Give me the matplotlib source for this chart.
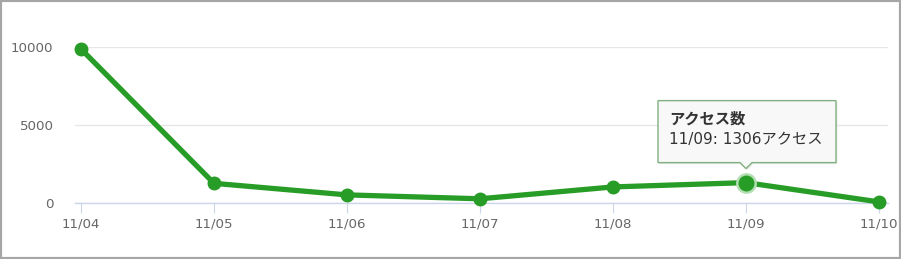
import matplotlib
matplotlib.use("Agg")
import matplotlib.pyplot as plt
import matplotlib.transforms as mtransforms
from matplotlib.patches import Polygon, Rectangle

plt.rcParams['font.family'] = ['DejaVu Sans', 'Noto Sans CJK JP']

# data
dates = ["11/04", "11/05", "11/06", "11/07", "11/08", "11/09", "11/10"]
access = [9870, 1260, 520, 270, 1030, 1306, 70]
yticks = [0, 5000, 10000]
hl = 5  # highlighted point (tooltip)
series_name = "アクセス数"
unit = "アクセス"

green = "#279c26"
W, H = 901, 259

fig = plt.figure(figsize=(W / 100, H / 100), dpi=100)
# plot area in pixels: x 75..888, y 47..203 (0..10000)
ax = fig.add_axes([75 / W, 1 - 203 / H, (888 - 75) / W, (203 - 47) / H])

x = list(range(len(dates)))
ax.set_xlim(-6 / 133, 6 + 9 / 133)
ax.set_ylim(0, 10000)

for s in ["top", "right", "left"]:
    ax.spines[s].set_visible(False)
ax.spines["bottom"].set_color("#ccd6eb")
ax.spines["bottom"].set_linewidth(1)

ax.set_yticks(yticks)
ax.set_yticklabels([str(v) for v in yticks])
ax.yaxis.grid(True, color="#e6e6e6", linewidth=1)
ax.set_axisbelow(True)
ax.tick_params(axis="y", length=0, pad=15.5, labelsize=9.6, labelcolor="#666666")

ax.set_xticks(x)
ax.set_xticklabels(dates)
ax.tick_params(axis="x", length=7, width=0.8, color="#ccd6eb", pad=3.2,
               labelsize=9.6, labelcolor="#666666")

ax.plot(x, access, color=green, linewidth=3.8, marker="o", markersize=9,
        clip_on=False, zorder=3)

# hovered point
ax.plot(x[hl], access[hl], marker="o", markersize=15, color="#b5dfb4",
        markeredgewidth=0, clip_on=False, zorder=4)
ax.plot(x[hl], access[hl], marker="o", markersize=11.5, color=green,
        markeredgewidth=0, clip_on=False, zorder=5)

# tooltip, coordinates in pixels relative to the hovered point
anchor = mtransforms.ScaledTranslation(x[hl], access[hl], ax.transData)
tr = mtransforms.Affine2D() + anchor
box = [(-88, 20), (-6, 20), (0, 14), (6, 20), (90, 20), (90, 82), (-88, 82)]
shadow = Polygon([(px + 1.5, py - 1.5) for px, py in box], closed=True,
                 transform=tr, facecolor="#000000", alpha=0.08, edgecolor="none",
                 zorder=6, clip_on=False)
fig.add_artist(shadow)
tip = Polygon(box, closed=True, transform=tr, facecolor="#f8f8f8",
              edgecolor="#7fb07f", linewidth=1, zorder=7, clip_on=False)
fig.add_artist(tip)
fig.text(0, 0, series_name, transform=mtransforms.Affine2D().translate(-77, 64) + anchor,
         fontsize=11, fontweight="bold", color="#333333", va="center", ha="left",
         zorder=8)
fig.text(0, 0, f"{dates[hl]}: {access[hl]}{unit}",
         transform=mtransforms.Affine2D().translate(-77, 43) + anchor,
         fontsize=11, color="#333333", va="center", ha="left", zorder=8)

# outer frame
fig.add_artist(Rectangle((0, 0), 1, 1, transform=fig.transFigure, fill=False,
                         edgecolor="#a6a6a6", linewidth=3))

fig.savefig("out.png", dpi=100)
